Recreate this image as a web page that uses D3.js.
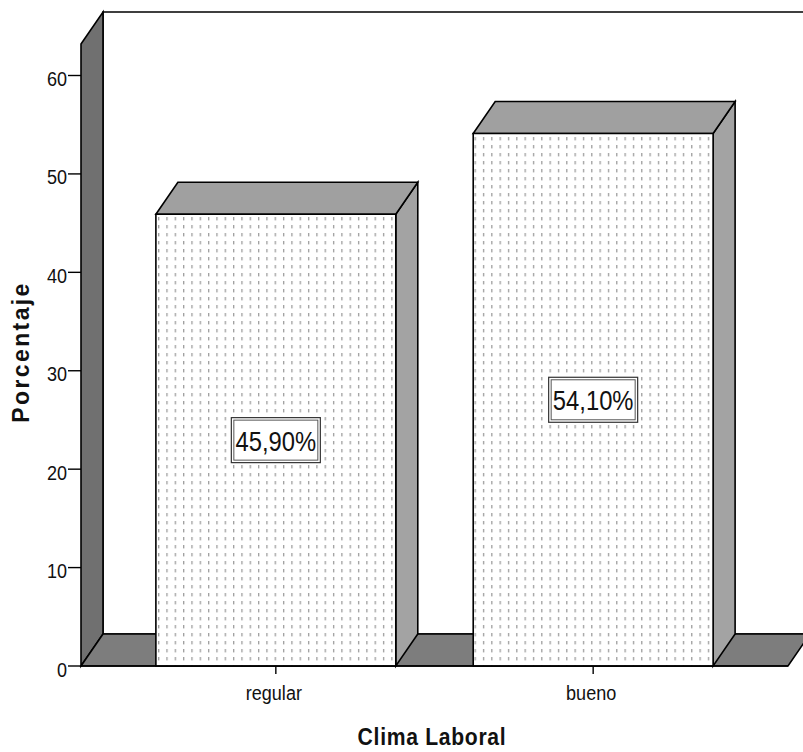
<!DOCTYPE html>
<html>
<head>
<meta charset="utf-8">
<script src="https://cdn.jsdelivr.net/npm/d3@7"></script>
<style>
  html, body { margin: 0; padding: 0; background: #fff; }
  svg { display: block; }
  text { font-family: "Liberation Sans", Arial, sans-serif; fill: #111; }
</style>
</head>
<body>
<svg id="chart" width="803" height="752"></svg>
<script>
// Clima Laboral — porcentaje por categoría
const categories = ["regular", "bueno"];
const percentages = [45.9, 54.1];
const valueLabels = ["45,90%", "54,10%"];
const yTicks = [0, 10, 20, 30, 40, 50, 60];
const yTitle = "Porcentaje";
const xTitle = "Clima Laboral";

const svg = d3.select("#chart");

// plot frame (front plane) and 3D depth offset
const plotLeft = 81, plotRight = 788, plotBottom = 666, plotTop = 75.5;
const dx = 22, dy = -32;

const y = d3.scaleLinear().domain([0, 60]).range([plotBottom, plotTop]);
const x = d3.scaleBand().domain(categories).range([plotLeft, plotRight])
  .paddingInner(0.244).paddingOuter(0.236);

// condensed text: placed at (px, py), squeezed horizontally
const narrow = (sel, px, py, sx) => sel.attr("transform", `translate(${px},${py}) scale(${sx},1)`);

const defs = svg.append("defs");
const pat = defs.append("pattern")
  .attr("id", "dots")
  .attr("patternUnits", "userSpaceOnUse")
  .attr("x", 158).attr("y", 0)
  .attr("width", 8.33).attr("height", 8);
pat.append("rect").attr("width", 8.33).attr("height", 8).attr("fill", "#fff");
pat.append("rect").attr("x", 0).attr("y", 1).attr("width", 1.3).attr("height", 3.4).attr("fill", "#9e9e9e");

const line = d3.line();
const poly = (pts, fill) => svg.append("path")
  .attr("d", line(pts) + "Z")
  .attr("fill", fill)
  .attr("stroke", "#000")
  .attr("stroke-width", 1.6)
  .attr("stroke-linejoin", "miter");

// walls reach a little above the last tick
const y0 = y(0), yMax = y(63.2);

// back wall
poly([[plotLeft + dx, yMax + dy], [plotRight + dx + 30, yMax + dy], [plotRight + dx + 30, y0 + dy], [plotLeft + dx, y0 + dy]], "#fff");
// left wall
poly([[plotLeft, yMax], [plotLeft + dx, yMax + dy], [plotLeft + dx, y0 + dy], [plotLeft, y0]], "#707070");
// floor
poly([[plotLeft, y0], [plotLeft + dx, y0 + dy], [plotRight + dx, y0 + dy], [plotRight, y0]], "#7d7d7d");

// bars
categories.forEach((c, i) => {
  const x0 = x(c), x1 = x(c) + x.bandwidth();
  const yt = y(percentages[i]);
  // side
  poly([[x1, yt], [x1 + dx, yt + dy], [x1 + dx, y0 + dy], [x1, y0]], "#a3a3a3");
  // top
  poly([[x0, yt], [x0 + dx, yt + dy], [x1 + dx, yt + dy], [x1, yt]], "#a0a0a0");
  // front
  poly([[x0, yt], [x1, yt], [x1, y0], [x0, y0]], "url(#dots)");
});

// floor front edge (x axis line)
svg.append("line").attr("x1", plotLeft).attr("x2", plotRight).attr("y1", y0).attr("y2", y0)
  .attr("stroke", "#000").attr("stroke-width", 1.6);

// y axis ticks
const yAxis = svg.append("g");
yAxis.selectAll("line").data(yTicks).join("line")
  .attr("x1", 68).attr("x2", plotLeft).attr("y1", d => y(d)).attr("y2", d => y(d))
  .attr("stroke", "#000").attr("stroke-width", 1.4);
yAxis.selectAll("text").data(yTicks).join("text")
  .each(function (d) { narrow(d3.select(this), 67, y(d) + 10.5, 0.86); })
  .attr("text-anchor", "end")
  .attr("font-size", 21)
  .text(d => d);

// x axis ticks
const xAxis = svg.append("g");
xAxis.selectAll("line").data(categories).join("line")
  .attr("x1", d => x(d) + x.bandwidth() / 2).attr("x2", d => x(d) + x.bandwidth() / 2)
  .attr("y1", y0).attr("y2", y0 + 8)
  .attr("stroke", "#000").attr("stroke-width", 1.4);
xAxis.selectAll("text").data(categories).join("text")
  .each(function (d) { narrow(d3.select(this), x(d) + x.bandwidth() / 2 - 2, 700, 0.86); })
  .attr("text-anchor", "middle")
  .attr("font-size", 21)
  .text(d => d);

// value labels in boxes at the middle of each bar face
categories.forEach((c, i) => {
  const cx = x(c) + x.bandwidth() / 2;
  const cy = (y(percentages[i]) + y0) / 2;
  const g = svg.append("g");
  const bw = 89, bh = 45;
  g.append("rect")
    .attr("x", cx - bw / 2).attr("y", cy - bh / 2)
    .attr("width", bw).attr("height", bh)
    .attr("fill", "#fff").attr("stroke", "#333").attr("stroke-width", 1.2);
  g.append("rect")
    .attr("x", cx - bw / 2 + 2.5).attr("y", cy - bh / 2 + 2.5)
    .attr("width", bw - 5).attr("height", bh - 5)
    .attr("fill", "#fff").attr("stroke", "#555").attr("stroke-width", 1);
  narrow(g.append("text"), cx, cy + 10.5, 0.85)
    .attr("text-anchor", "middle")
    .attr("font-size", 28)
    .text(valueLabels[i]);
});

// axis titles
svg.append("text")
  .attr("transform", "translate(29,352) rotate(-90)")
  .attr("text-anchor", "middle")
  .attr("font-size", 23).attr("font-weight", "bold")
  .attr("letter-spacing", 2.4)
  .text(yTitle);
narrow(svg.append("text"), 432, 745, 0.88)
  .attr("text-anchor", "middle")
  .attr("font-size", 24).attr("font-weight", "bold")
  .attr("letter-spacing", 0.8)
  .text(xTitle);
</script>
</body>
</html>
